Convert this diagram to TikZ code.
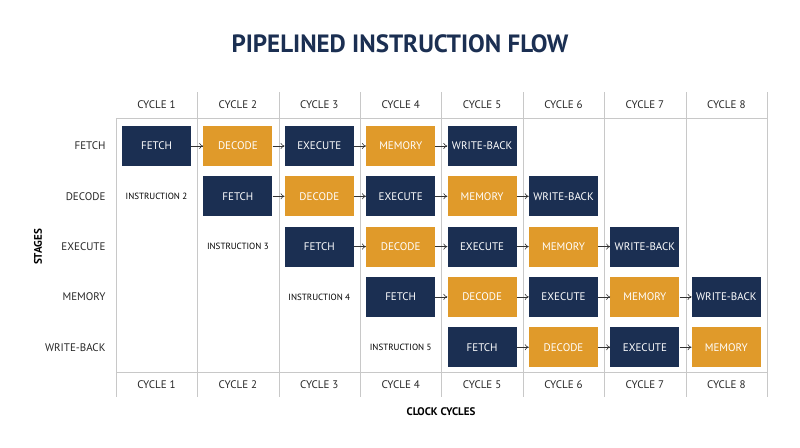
\documentclass[tikz,border=0pt]{standalone}
\usepackage{fontspec}
\setmainfont{PT Sans}
\usetikzlibrary{arrows.meta}
\definecolor{navy}{HTML}{1B2F52}
\definecolor{gold}{HTML}{E09A2A}
\definecolor{gridgray}{HTML}{C8C8C8}
\newcommand{\colw}{81.4}
\newcommand{\roww}{50.3}

\begin{document}
\begin{tikzpicture}[x=1pt,y=-1pt,
  stage/.style={minimum width=69pt, minimum height=40pt, inner sep=0pt, text=white, font=\fontsize{11}{12}\selectfont},
  ph0/.style={stage, fill=navy}, ph1/.style={stage, fill=gold}, ph2/.style={stage, fill=navy},
  ph3/.style={stage, fill=gold}, ph4/.style={stage, fill=navy},
  lbl/.style={font=\fontsize{11}{12}\selectfont, text=black!85},
  flow/.style={-{To[length=4pt,width=6pt]}, semithick, black!80}]
\useasboundingbox (0,0) rectangle (800,447);
\node[font=\bfseries\fontsize{25}{28}\selectfont, text=navy] (title) at (400,44) {PIPELINED INSTRUCTION FLOW};

% grid
\draw[gridgray] (116,118) -- (767,118) (116,372) -- (767,372) (116,118) -- (116,397);
\foreach \k in {1,...,8}
  \draw[gridgray] (116+\k*\colw,92) -- (116+\k*\colw,397);

% cycle headers
\foreach \c in {1,...,8} {
  \node[lbl] (top\c) at (156.5+\colw*\c-\colw,105) {CYCLE \c};
  \node[lbl] (bot\c) at (156.5+\colw*\c-\colw,385) {CYCLE \c};
}

% stage labels
\foreach \s [count=\r] in {FETCH,DECODE,EXECUTE,MEMORY,WRITE-BACK}
  \node[lbl, anchor=east] (row\r) at (109,146+\roww*\r-\roww) {\s};
\node[font=\bfseries\fontsize{11}{12}\selectfont, rotate=90] (stages) at (38,247) {STAGES};
\node[font=\bfseries\fontsize{11}{12}\selectfont] (clock) at (441,412) {CLOCK CYCLES};

% instruction labels
\foreach \i in {2,...,5}
  \node[font=\fontsize{9}{10}\selectfont] (ins\i) at (156.5+\colw*\i-2*\colw,146+\roww*\i-\roww) {INSTRUCTION \i};

% pipeline boxes
\foreach \i in {1,...,5} {
  \foreach \s [count=\p from 0] in {FETCH,DECODE,EXECUTE,MEMORY,WRITE-BACK} {
    \pgfmathtruncatemacro{\cc}{\i+\p}
    \ifnum\cc<9
      \node[ph\p] (b\i-\cc) at (156.5+\colw*\cc-\colw,146+\roww*\i-\roww) {\s};
    \fi
  }
  \pgfmathtruncatemacro{\last}{min(\i+4,8)}
  \pgfmathtruncatemacro{\first}{\i+1}
  \foreach \cc in {\first,...,\last} {
    \pgfmathtruncatemacro{\prev}{\cc-1}
    \draw[flow] (b\i-\prev) -- (b\i-\cc);
  }
}
\end{tikzpicture}
\end{document}
